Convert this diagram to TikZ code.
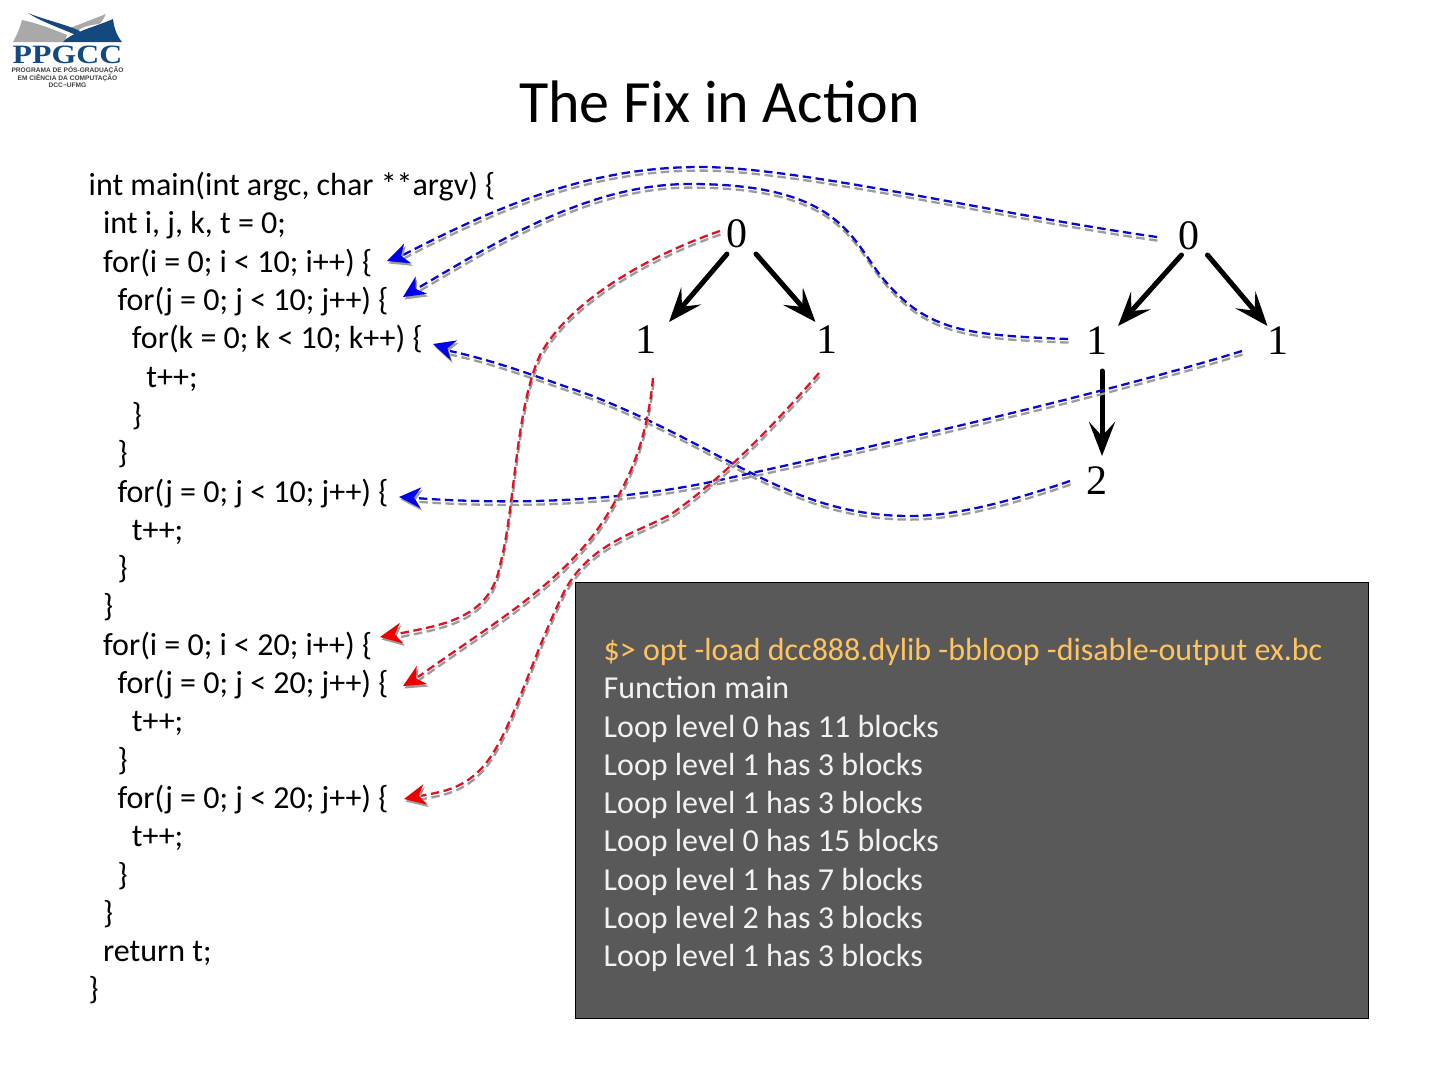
\documentclass[tikz,border=0pt]{standalone}
\usepackage{fontspec}
\setmainfont{Carlito}
\newfontfamily\numfont{Liberation Serif}
\newfontfamily\logofont{Liberation Sans}
\usetikzlibrary{arrows.meta,calc}
\definecolor{logoblue}{HTML}{14497F}
\definecolor{logogray}{HTML}{A9A9A9}
\definecolor{boxgray}{HTML}{595959}
\definecolor{promptorange}{HTML}{FFC45F}
\definecolor{shadowgray}{HTML}{9C9C9C}
\definecolor{linkblue}{HTML}{0A0ACC}
\definecolor{linkred}{HTML}{DC1428}
\tikzset{
  num/.style={font=\numfont\fontsize{42}{42}\selectfont,inner sep=0pt,text=black},
  edgearrow/.style={line width=5pt,line cap=round,-{Stealth[length=34pt,width=26pt,inset=14pt]}},
  code/.style={anchor=north west,align=left,inner sep=0pt,font=\fontsize{32}{38.3}\selectfont},
  link/.style={line width=2.3pt,dash pattern=on 8.5pt off 4.5pt,draw=#1},
  linkshadow/.style={line width=2.3pt,dash pattern=on 8.5pt off 4.5pt,draw=shadowgray},
}
\newcommand{\headat}[3]{% colour, tip node, rotation
  \fill[shadowgray,shift={($(#2)+(1.5,2.5)$)},rotate=#3] (0,0) -- (22,-10.5) -- (15,0) -- (22,10.5) -- cycle;
  \fill[#1,shift={(#2)},rotate=#3] (0,0) -- (22,-10.5) -- (15,0) -- (22,10.5) -- cycle;
}
\newcommand{\linkcurve}[2]{% colour, path
  \begin{scope}[transform canvas={xshift=0.5pt,yshift=-3.6pt}]
  \draw[linkshadow] #2;
  \end{scope}
  \draw[link=#1] #2;
}
\begin{document}
\begin{tikzpicture}[x=1pt,y=-1pt]
\useasboundingbox (0,0) rectangle (1440,1080);
% logo
\fill[logogray] (13,42) .. controls (18,33) and (20,27) .. (22,20) .. controls (40,24) and (55,30) .. (67,35) -- (65,42) -- cycle;
\fill[logogray] (70,28) -- (106,14) .. controls (103,20) and (101,23) .. (99,24) .. controls (90,25) and (82,27) .. (77,31) -- cycle;
\fill[logoblue] (28,13) .. controls (45,20) and (65,24) .. (80,31) -- (76,35) .. controls (60,28) and (42,22) .. cycle;
\fill[logoblue] (63,42) .. controls (72,32) and (95,27) .. (113,19) .. controls (114,28) and (117,36) .. (122,42) -- cycle;
\node[inner sep=0pt,text=logoblue,xscale=1.2] (logoname) at (67.5,55) {\numfont\bfseries\fontsize{26.5}{26.5}\selectfont PPGCC};
\node[inner sep=0pt,text=black!75,align=center,font=\logofont\bfseries\fontsize{6.6}{6.7}\selectfont] (logotext) at (67.5,77) {PROGRAMA DE PÓS-GRADUAÇÃO\\EM CIÊNCIA DA COMPUTAÇÃO\\DCC−UFMG};
% title
\node[inner sep=0pt,font=\fontsize{60}{60}\selectfont] (title) at (719.5,102) {The Fix in Action};
% code
\node[code] (code) at (88.5,172) {%
int main(int argc, char **argv) \{\\
\hspace*{14.4pt}int i, j, k, t = 0;\\
\hspace*{14.4pt}for(i = 0; i < 10; i++) \{\\
\hspace*{28.8pt}for(j = 0; j < 10; j++) \{\\
\hspace*{43.2pt}for(k = 0; k < 10; k++) \{\\
\hspace*{57.6pt}t++;\\
\hspace*{43.2pt}\}\\
\hspace*{28.8pt}\}\\
\hspace*{28.8pt}for(j = 0; j < 10; j++) \{\\
\hspace*{43.2pt}t++;\\
\hspace*{28.8pt}\}\\
\hspace*{14.4pt}\}\\
\hspace*{14.4pt}for(i = 0; i < 20; i++) \{\\
\hspace*{28.8pt}for(j = 0; j < 20; j++) \{\\
\hspace*{43.2pt}t++;\\
\hspace*{28.8pt}\}\\
\hspace*{28.8pt}for(j = 0; j < 20; j++) \{\\
\hspace*{43.2pt}t++;\\
\hspace*{28.8pt}\}\\
\hspace*{14.4pt}\}\\
\hspace*{14.4pt}return t;\\
\}};
% terminal box
\node[draw=black,line width=0.7pt,fill=boxgray,minimum width=793pt,minimum height=436pt,inner sep=0pt,anchor=north west] (box) at (575,582) {};
\node[code,text=white!95!black] (term) at (603.5,638) {%
\textcolor{promptorange}{\$> opt -load dcc888.dylib -bbloop -disable-output ex.bc}\\
Function main\\
Loop level 0 has 11 blocks\\
Loop level 1 has 3 blocks\\
Loop level 1 has 3 blocks\\
Loop level 0 has 15 blocks\\
Loop level 1 has 7 blocks\\
Loop level 2 has 3 blocks\\
Loop level 1 has 3 blocks};
% loop trees
\node[num] (a0) at (737,234) {0};
\node[num] (a1) at (646,340) {1};
\node[num] (a2) at (826.5,340) {1};
\node[num] (b0) at (1188.5,236) {0};
\node[num] (b1) at (1097,341) {1};
\node[num] (b2) at (1277.5,341) {1};
\node[num] (b3) at (1097,481) {2};
\draw[edgearrow] ($(a0)+(-10,20)$) -- ($(a1)+(23,-18)$);
\draw[edgearrow] ($(a0)+(19,20)$) -- ($(a2)+(-11,-18)$);
\draw[edgearrow] ($(b0)+(-7,19)$) -- ($(b1)+(21,-15)$);
\draw[edgearrow] ($(b0)+(19,19)$) -- ($(b2)+(-10,-15)$);
\draw[edgearrow] ($(b1)+(5,30)$) -- ($(b3)+(5,-25)$);
% arrow tips on the code side
\coordinate (tb1) at (387,261);
\coordinate (tb2) at (403,297);
\coordinate (tb3) at (433,344);
\coordinate (tb4) at (399,497);
\coordinate (tr1) at (380,637);
\coordinate (tr2) at (403,686);
\coordinate (tr3) at (404,799);
\coordinate (sb1) at (1157,237);
\coordinate (sb2) at (1068,339);
\coordinate (sb3) at (1070,481);
\coordinate (sb4) at (1242,351);
\coordinate (sr1) at (720,231);
\coordinate (sr2) at (653,378);
\coordinate (sr3) at (819,373);
% blue links
\linkcurve{linkblue}{(sb1) .. controls (1000,215) and (800,167) .. (700,167) .. controls (590,167) and (500,205) .. ($(tb1)+(16,-6)$)}
\linkcurve{linkblue}{(sb2) .. controls (960,335) and (925,330) .. (880,275) .. controls (850,235) and (835,184) .. (690,184) .. controls (590,184) and (500,240) .. ($(tb2)+(15,-9)$)}
\linkcurve{linkblue}{(sb3) .. controls (1000,505) and (950,516) .. (910,516) .. controls (790,516) and (730,450) .. (590,395) .. controls (540,378) and (500,362) .. ($(tb3)+(17,7)$)}
\linkcurve{linkblue}{(sb4) .. controls (1100,395) and (880,445) .. (720,480) .. controls (620,502) and (510,505) .. ($(tb4)+(16,1)$)}
% red links
\linkcurve{linkred}{(sr1) .. controls (650,255) and (570,300) .. (540,355) .. controls (515,410) and (515,510) .. (500,565) .. controls (490,620) and (440,625) .. ($(tr1)+(17,-3)$)}
\linkcurve{linkred}{(sr2) .. controls (648,430) and (635,470) .. (610,510) .. controls (570,580) and (490,625) .. ($(tr2)+(15,-9)$)}
\linkcurve{linkred}{(sr3) .. controls (770,430) and (720,480) .. (670,515) .. controls (630,535) and (590,545) .. (565,590) .. controls (530,660) and (510,740) .. (480,770) .. controls (460,790) and (440,792) .. ($(tr3)+(16,-3)$)}
% heads
\headat{blue!93!black}{tb1}{20}
\headat{blue!93!black}{tb2}{33}
\headat{blue!93!black}{tb3}{-17}
\headat{blue!93!black}{tb4}{-2}
\headat{red!93!black}{tr1}{10}
\headat{red!93!black}{tr2}{30}
\headat{red!93!black}{tr3}{12}
\end{tikzpicture}
\end{document}
